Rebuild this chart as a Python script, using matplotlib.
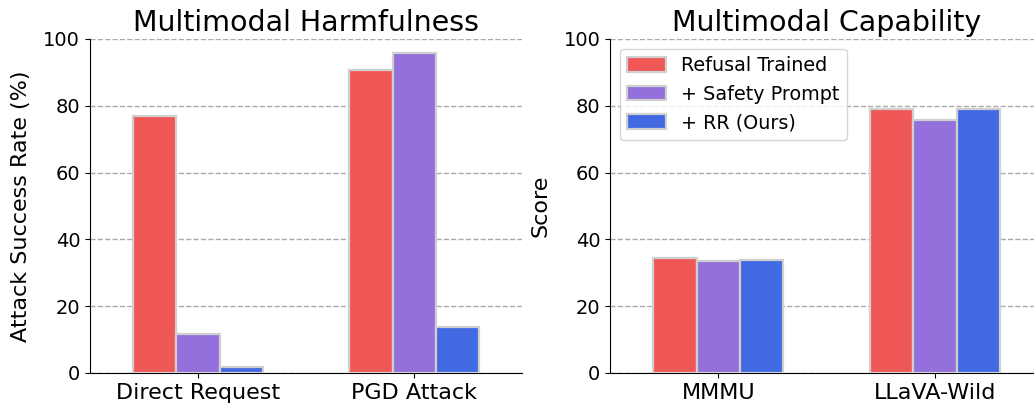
import numpy as np
import matplotlib.pyplot as plt

methods = ['Refusal Trained', '+ Safety Prompt', '+ RR (Ours)']
colors = ['#f05757', '#9370db', '#4169e1']

harm_cats = ['Direct Request', 'PGD Attack']
harm_vals = [[77.0, 90.7], [11.6, 95.9], [1.8, 13.9]]

cap_cats = ['MMMU', 'LLaVA-Wild']
cap_vals = [[34.3, 78.9], [33.6, 75.7], [33.8, 78.9]]

fig, axes = plt.subplots(1, 2, figsize=(10.34, 4.11), dpi=100)
width = 0.2

panels = [
    (axes[0], harm_cats, harm_vals, 'Multimodal Harmfulness', 'Attack Success Rate (%)'),
    (axes[1], cap_cats, cap_vals, 'Multimodal Capability', 'Score'),
]

for ax, cats, vals, title, ylabel in panels:
    x = np.arange(len(cats))
    for i, (m, c) in enumerate(zip(methods, colors)):
        ax.bar(x + (i - 1) * width, vals[i], width, color=c, label=m,
               edgecolor='#d0d0d0', linewidth=1.6, zorder=3)
    ax.set_xticks(x)
    ax.set_xticklabels(cats, fontsize=16)
    ax.set_xlim(-0.5, 1.5)
    ax.set_ylim(0, 100)
    ax.tick_params(axis='y', labelsize=14)
    ax.set_title(title, fontsize=20.5)
    ax.set_ylabel(ylabel, fontsize=16, labelpad=9)
    ax.grid(axis='y', linestyle='--', color='#aaaaaa', linewidth=1, zorder=0)
    ax.spines['top'].set_visible(False)
    ax.spines['right'].set_visible(False)

axes[1].legend(loc='upper left', fontsize=13.8, handleheight=0.8)

# the right panel runs slightly past the edge of the image, as in the original
axes[0].set_position([0.087, 0.0925, 0.418, 0.8127])
axes[1].set_position([0.590, 0.0925, 0.419, 0.8127])
plt.savefig('out.png')
